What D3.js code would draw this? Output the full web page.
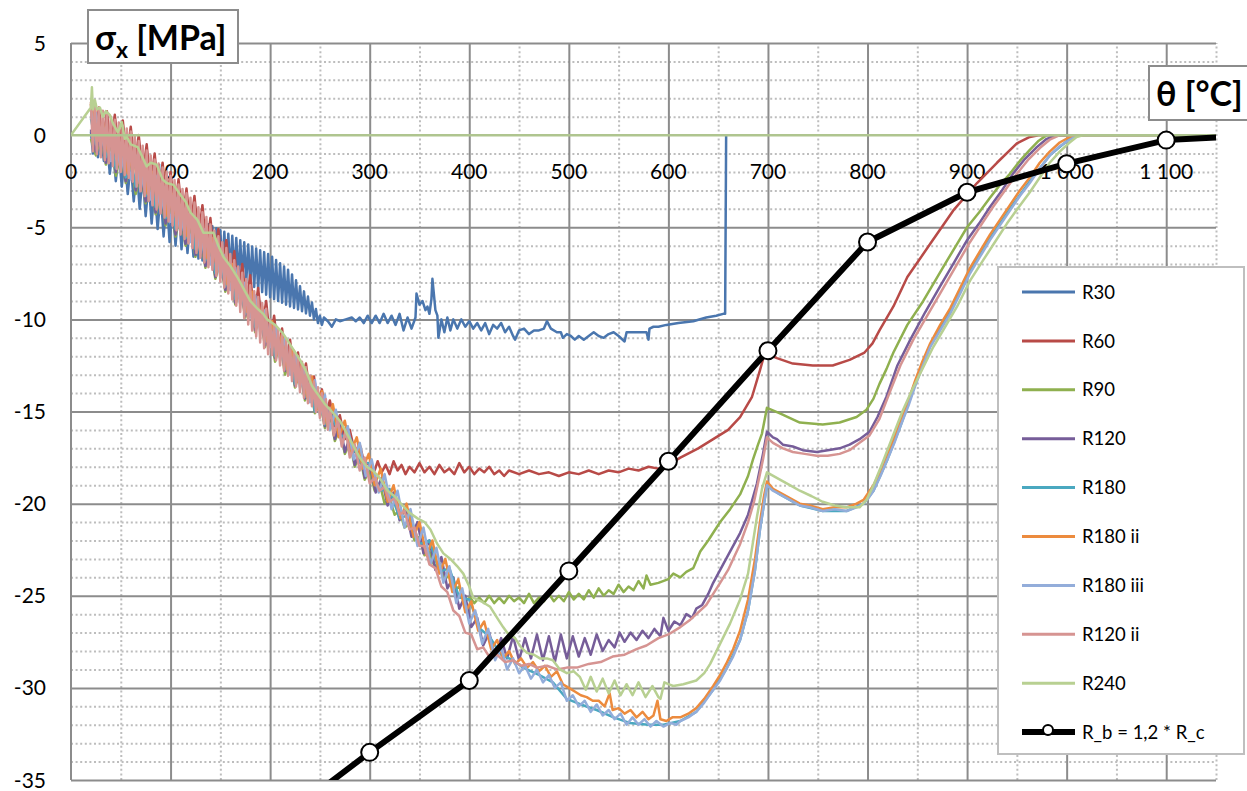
<!DOCTYPE html>
<html><head><meta charset="utf-8">
<script src="https://cdn.jsdelivr.net/npm/d3@7"></script>
<style>
html,body{margin:0;padding:0;background:#fff;}
svg{display:block;font-family:Lato,"Open Sans",sans-serif;}
</style></head>
<body>
<svg id="chart" width="1247" height="791"></svg>
<script>
// ---------- data ----------
const xTicks = [0,100,200,300,400,500,600,700,800,900,1000,1100];
const yTicks = [5,0,-5,-10,-15,-20,-25,-30,-35];
const seriesNames = ["R30","R60","R90","R120","R180","R180 ii","R180 iii","R120 ii","R240","R_b = 1,2 * R_c"];

const r30 = [[20,0.2],[22,-1.0],[24,0.4],[27,-1.2],[30,0.1],[33,-1.4],[36,-0.3],[39,-2.1],[42,-0.6],[45,-2.5],[48,-0.9],[51,-2.8],[54,-1.2],[57,-3.2],[60,-1.5],[63,-3.6],[66,-1.8],[69,-4.0],[72,-2.2],[75,-4.4],[78,-2.5],[81,-4.8],[84,-2.8],[87,-5.1],[90,-3.1],[93,-5.5],[96,-3.4],[99,-5.8],[102,-3.7],[105,-6.0],[108,-3.9],[111,-6.2],[114,-4.1],[117,-6.4],[120,-4.3],[123,-6.6],[126,-4.5],[128,-6.7],[130,-4.6],[132,-6.8],[134,-4.72],[136,-6.9],[138,-4.84],[140,-7.0],[142,-4.95],[144,-7.1],[146,-5.05],[148,-7.2],[150,-5.15],[152,-7.3],[154,-5.25],[156,-7.4],[158,-5.35],[160,-7.5],[162,-5.46],[164,-7.62],[166,-5.58],[168,-7.74],[170,-5.7],[172,-7.86],[174,-5.82],[176,-7.98],[178,-5.94],[180,-8.1],[182,-6.05],[184,-8.24],[186,-6.15],[188,-8.38],[190,-6.25],[192,-8.52],[194,-6.35],[196,-8.66],[198,-6.45],[200,-8.8],[202,-6.6],[204,-8.9],[206,-6.78],[208,-9.0],[210,-6.95],[212,-9.1],[214,-7.13],[216,-9.2],[218,-7.3],[220,-9.3],[222,-7.56],[224,-9.38],[226,-7.88],[228,-9.46],[230,-8.2],[232,-9.56],[234,-8.48],[236,-9.68],[238,-8.76],[240,-9.8],[242,-9.08],[244,-10.0],[246,-9.44],[248,-10.2],[250,-9.8],[252,-10.3],[254,-9.9],[258,-10.1],[262,-10.4],[266,-10.0],[270,-10.1],[276,-10.0],[282,-9.9],[286,-10.1],[290,-9.9],[294,-10.2],[298,-9.8],[302,-10.2],[306,-9.8],[310,-10.2],[314,-9.7],[318,-10.2],[322,-9.8],[326,-10.3],[330,-9.7],[334,-10.6],[338,-9.9],[342,-10.5],[346,-9.9],[347,-8.6],[350,-9.2],[353,-9.0],[356,-9.5],[358,-9.3],[360,-9.7],[362,-8.9],[363,-7.8],[366,-9.5],[368,-9.8],[369,-11.0],[372,-10.0],[375,-10.7],[378,-9.9],[381,-10.6],[384,-10.0],[388,-10.5],[392,-10.0],[396,-10.4],[400,-10.1],[404,-10.5],[408,-10.2],[412,-10.6],[416,-10.2],[420,-10.8],[424,-10.3],[428,-10.5],[432,-10.2],[436,-10.7],[440,-10.4],[444,-10.9],[446,-11.1],[450,-10.6],[455,-10.5],[460,-10.8],[465,-10.6],[470,-10.6],[475,-10.5],[478,-10.1],[482,-10.5],[488,-10.7],[492,-10.7],[494,-11.0],[498,-10.8],[502,-10.9],[506,-11.1],[510,-10.9],[515,-11.1],[520,-10.9],[525,-10.7],[530,-10.9],[535,-11.0],[540,-10.8],[545,-10.7],[550,-10.9],[556,-11.2],[558,-10.7],[565,-10.7],[572,-10.7],[578,-10.7],[580,-11.1],[581,-10.5],[585,-10.4],[590,-10.4],[598,-10.3],[610,-10.2],[625,-10.1],[638,-9.9],[648,-9.8],[655,-9.7],[657,-9.7],[658,0]];

const r60 = [[20,1.4],[24,-0.5],[28,1.5],[32,-0.6],[36,1.3],[40,-0.8],[44,1.1],[48,-1.0],[52,0.8],[56,-1.3],[60,0.45],[64,-1.7],[68,0.0],[72,-2.2],[76,-0.5],[80,-2.8],[84,-1.0],[88,-3.3],[92,-1.5],[96,-3.8],[100,-2.0],[104,-4.2],[108,-2.4],[112,-4.6],[116,-2.9],[120,-5.1],[124,-3.3],[128,-5.6],[132,-3.8],[136,-6.2],[140,-4.5],[144,-6.8],[148,-5.1],[152,-7.4],[156,-5.7],[160,-8.0],[164,-6.3],[168,-8.6],[172,-7.0],[176,-9.2],[180,-7.6],[184,-9.8],[188,-8.3],[192,-10.5],[196,-9.0],[200,-11.2],[204,-9.8],[208,-11.8],[212,-10.5],[216,-12.4],[220,-11.1],[224,-13.0],[228,-11.8],[232,-13.5],[236,-12.4],[240,-14.1],[244,-13.1],[248,-14.6],[252,-13.8],[256,-15.2],[260,-14.4],[265,-15.8],[270,-15.2],[275,-16.5],[280,-16.0],[285,-17.2],[290,-16.8],[295,-17.9],[300,-17.8],[305,-18.2],[308,-17.7],[312,-18.3],[316,-17.9],[320,-18.4],[324,-17.7],[328,-18.2],[332,-17.9],[336,-18.4],[340,-18.0],[345,-18.3],[350,-17.8],[355,-18.3],[360,-18.0],[365,-18.4],[370,-17.9],[375,-18.3],[380,-18.1],[385,-18.4],[390,-17.8],[395,-18.3],[400,-18.0],[405,-18.4],[410,-18.1],[415,-18.3],[420,-18.0],[425,-18.4],[430,-18.2],[435,-18.5],[440,-18.2],[450,-18.4],[460,-18.2],[470,-18.4],[480,-18.3],[490,-18.5],[500,-18.3],[510,-18.4],[520,-18.2],[530,-18.4],[540,-18.2],[550,-18.3],[560,-18.1],[570,-18.2],[580,-18.0],[590,-18.1],[600,-17.9],[612,-17.5],[630,-17.0],[645,-16.5],[660,-16.0],[672,-15.3],[684,-14.2],[692,-12.75],[697,-11.8],[700,-11.9],[709,-12.1],[725,-12.4],[745,-12.5],[765,-12.5],[782,-12.2],[797,-11.8],[805,-11.3],[812,-10.6],[826,-9.3],[840,-7.7],[863,-5.9],[886,-4.1],[910,-2.6],[930,-1.5],[950,-0.45],[963,-0.1],[973,0],[1150,0]];

const r90 = [[20,-0.2],[25,-1.1],[30,0.0],[35,-1.6],[40,-0.5],[45,-2.2],[50,-1.0],[55,-2.6],[60,-1.5],[65,-3.2],[70,-2.0],[75,-3.7],[80,-2.6],[85,-4.3],[90,-3.2],[95,-4.9],[100,-3.8],[105,-5.5],[110,-4.3],[115,-6.0],[120,-4.9],[125,-6.6],[130,-5.5],[135,-7.2],[140,-6.1],[145,-7.8],[150,-6.8],[155,-8.5],[160,-7.5],[165,-9.2],[170,-8.2],[175,-9.9],[180,-9.0],[185,-10.7],[190,-9.8],[195,-11.5],[200,-10.6],[205,-12.3],[210,-11.3],[215,-13.0],[220,-12.1],[225,-13.7],[230,-12.8],[235,-14.4],[240,-13.6],[245,-15.1],[250,-14.4],[255,-15.9],[260,-15.1],[265,-16.6],[270,-15.9],[275,-17.3],[280,-16.7],[285,-18.0],[290,-17.4],[295,-18.7],[300,-18.2],[305,-19.3],[310,-18.9],[315,-20.0],[320,-19.7],[325,-20.6],[330,-20.4],[335,-21.3],[340,-21.1],[345,-22.0],[350,-21.8],[355,-22.8],[360,-22.6],[365,-23.4],[370,-23.2],[375,-24.1],[380,-23.9],[385,-24.7],[390,-24.5],[395,-25.3],[401,-25.1],[405,-25.4],[410,-25.1],[415,-25.4],[420,-25.0],[425,-25.4],[430,-25.1],[435,-25.4],[440,-25.0],[445,-25.3],[450,-25.1],[455,-25.4],[460,-24.9],[465,-25.4],[470,-25.1],[475,-25.3],[480,-24.9],[485,-25.3],[490,-25.0],[495,-25.3],[500,-24.8],[505,-25.2],[510,-24.9],[515,-25.2],[520,-24.7],[525,-25.1],[530,-24.6],[535,-25.0],[540,-24.7],[545,-24.9],[550,-24.4],[555,-24.8],[560,-24.5],[565,-24.7],[570,-24.2],[575,-24.6],[578,-23.9],[582,-24.4],[590,-24.3],[600,-24.1],[605,-23.8],[612,-24.0],[618,-23.7],[625,-23.5],[632,-22.6],[640,-22.0],[652,-21.0],[662,-20.3],[672,-19.5],[680,-18.5],[685,-17.6],[690,-16.8],[694,-16.2],[699,-14.8],[712,-15.1],[732,-15.6],[755,-15.7],[772,-15.6],[789,-15.3],[799,-14.9],[806,-14.3],[812,-13.5],[819,-12.7],[826,-11.8],[840,-10.3],[856,-9.0],[868,-7.9],[880,-6.8],[890,-5.9],[900,-5.0],[912,-4.2],[923,-3.4],[933,-2.7],[943,-2.1],[953,-1.4],[963,-0.8],[972,-0.3],[980,0],[1150,0]];

const r120 = [[20,0.3],[25,-0.9],[30,0.2],[35,-1.5],[40,-0.3],[45,-2.0],[50,-0.8],[55,-2.5],[60,-1.3],[65,-3.0],[70,-1.9],[75,-3.6],[80,-2.4],[85,-4.2],[90,-3.0],[95,-4.8],[100,-3.6],[105,-5.4],[110,-4.1],[115,-5.9],[120,-4.7],[125,-6.5],[130,-5.3],[135,-7.1],[140,-5.9],[145,-7.7],[150,-6.6],[155,-8.4],[160,-7.3],[165,-9.1],[170,-8.0],[175,-9.8],[180,-8.8],[185,-10.6],[190,-9.6],[195,-11.4],[200,-10.4],[205,-12.1],[210,-11.1],[215,-12.8],[220,-11.9],[225,-13.6],[230,-12.6],[235,-14.3],[240,-13.4],[245,-15.0],[250,-14.1],[255,-15.8],[260,-14.9],[265,-16.5],[270,-15.6],[275,-17.2],[280,-16.4],[285,-17.9],[290,-17.1],[295,-18.6],[300,-17.9],[306,-19.4],[312,-18.6],[318,-20.1],[324,-19.4],[330,-20.9],[336,-20.2],[342,-21.8],[348,-21.0],[354,-22.7],[360,-22.0],[366,-23.6],[372,-22.9],[378,-24.6],[384,-24.0],[390,-25.7],[396,-25.0],[402,-26.7],[408,-26.2],[414,-27.7],[420,-27.0],[426,-28.3],[432,-27.3],[438,-28.4],[444,-27.2],[450,-28.5],[456,-27.3],[462,-28.4],[468,-27.1],[474,-28.5],[480,-27.2],[486,-28.6],[492,-27.1],[498,-28.4],[504,-27.2],[510,-28.3],[516,-27.3],[522,-28.2],[528,-27.1],[534,-28.0],[540,-27.4],[546,-27.8],[551,-27.0],[556,-27.5],[562,-27.0],[568,-27.4],[574,-26.9],[580,-27.3],[586,-26.8],[592,-27.2],[595,-26.2],[600,-26.9],[606,-26.4],[612,-26.6],[618,-26.0],[624,-26.2],[628,-25.7],[634,-25.5],[640,-24.9],[645,-24.3],[652,-23.6],[660,-22.8],[672,-21.6],[680,-20.6],[689,-18.9],[695,-17.3],[699,-16.1],[705,-16.4],[709,-16.5],[715,-16.8],[725,-16.9],[735,-17.1],[749,-17.2],[760,-17.1],[772,-17.0],[782,-16.8],[792,-16.5],[802,-16.1],[810,-15.3],[819,-14.2],[830,-12.5],[843,-11.1],[858,-9.6],[873,-8.2],[887,-6.9],[900,-5.7],[912,-4.8],[923,-3.9],[935,-3.0],[946,-2.1],[958,-1.3],[970,-0.65],[980,-0.2],[990,0],[1150,0]];

const r180 = [[20,0.9],[25,-0.5],[30,0.3],[35,-1.2],[40,-0.3],[45,-1.8],[50,-0.8],[55,-2.3],[60,-1.3],[65,-2.8],[70,-1.8],[75,-3.3],[80,-2.4],[85,-3.9],[90,-3.0],[95,-4.5],[100,-3.6],[105,-5.1],[110,-4.2],[115,-5.6],[120,-4.7],[125,-6.2],[130,-5.3],[135,-6.8],[140,-6.0],[145,-7.5],[150,-6.7],[155,-8.2],[160,-7.4],[165,-8.9],[170,-8.1],[175,-9.7],[180,-8.9],[185,-10.4],[190,-9.7],[195,-11.2],[200,-10.5],[205,-12.0],[210,-11.2],[215,-12.7],[220,-12.0],[225,-13.5],[230,-12.7],[235,-14.2],[240,-13.5],[245,-15.0],[250,-14.2],[255,-15.7],[260,-15.0],[270,-16.3],[280,-16.4],[290,-17.8],[300,-17.8],[310,-19.3],[320,-19.2],[330,-20.8],[340,-20.6],[350,-22.2],[360,-22.0],[370,-23.7],[380,-23.5],[390,-25.1],[400,-25.2],[411,-26.8],[420,-27.2],[432,-28.2],[444,-28.5],[454,-28.9],[470,-29.3],[484,-29.7],[498,-30.6],[512,-30.9],[528,-31.2],[545,-31.6],[561,-31.9],[580,-32.0],[595,-32.0],[612,-31.8],[628,-31.3],[645,-30.1],[658,-29.0],[672,-27.4],[680,-25.8],[687,-23.6],[692,-21.4],[699,-19.0],[712,-19.5],[732,-20.1],[755,-20.4],[779,-20.4],[796,-20.0],[806,-19.3],[820,-17.6],[833,-15.8],[848,-13.5],[863,-11.4],[883,-9.6],[903,-7.4],[923,-5.6],[943,-4.0],[963,-2.5],[983,-1.1],[1003,-0.2],[1012,0],[1150,0]];

const r180ii = [[20,1.7],[22,0.6],[24,1.5],[28,-0.3],[32,0.7],[37,-0.9],[42,0.0],[47,-1.6],[52,-0.4],[57,-2.1],[62,-0.9],[67,-2.6],[72,-1.4],[77,-3.2],[82,-2.0],[87,-3.8],[92,-2.6],[97,-4.4],[102,-3.2],[107,-5.0],[112,-3.8],[117,-5.5],[122,-4.3],[127,-6.1],[132,-4.9],[137,-6.7],[142,-5.6],[147,-7.4],[152,-6.3],[157,-8.1],[162,-7.0],[167,-8.9],[172,-7.8],[177,-9.6],[182,-8.5],[187,-10.4],[192,-9.3],[197,-11.2],[202,-10.1],[207,-11.9],[212,-10.8],[217,-12.7],[222,-11.6],[227,-13.4],[232,-12.4],[237,-14.2],[242,-13.1],[247,-14.9],[252,-13.9],[257,-15.7],[263,-14.6],[269,-16.4],[275,-15.5],[281,-17.2],[287,-16.4],[293,-18.1],[299,-17.3],[305,-19.0],[311,-18.1],[318,-19.9],[324,-19.0],[331,-20.8],[337,-20.0],[344,-21.8],[350,-21.0],[357,-22.8],[363,-22.0],[370,-23.8],[376,-23.0],[383,-24.8],[389,-24.1],[396,-25.9],[402,-25.3],[409,-26.9],[415,-26.4],[422,-27.9],[428,-27.4],[434,-28.4],[440,-28.0],[446,-28.7],[452,-28.4],[458,-28.9],[464,-28.6],[470,-29.1],[476,-28.8],[482,-29.4],[488,-29.1],[494,-29.8],[500,-30.0],[506,-30.2],[512,-30.4],[518,-30.5],[524,-30.7],[530,-30.7],[536,-31.0],[541,-30.3],[544,-31.2],[550,-31.1],[556,-31.4],[562,-31.2],[568,-31.6],[574,-31.3],[580,-31.7],[585,-31.5],[589,-30.7],[592,-31.7],[598,-31.8],[604,-31.6],[612,-31.6],[620,-31.4],[628,-31.1],[636,-30.6],[645,-29.9],[652,-29.3],[658,-28.7],[665,-27.9],[672,-26.9],[680,-25.2],[687,-23.0],[692,-21.0],[696,-19.6],[699,-18.8],[705,-19.2],[712,-19.4],[722,-19.7],[732,-20.0],[742,-20.1],[755,-20.3],[767,-20.2],[779,-20.2],[789,-20.0],[796,-19.8],[801,-19.4],[806,-19.0],[813,-18.2],[820,-17.3],[827,-16.4],[833,-15.5],[841,-14.4],[848,-13.3],[855,-12.3],[863,-11.3],[873,-10.3],[883,-9.4],[893,-8.3],[903,-7.2],[913,-6.3],[923,-5.4],[933,-4.6],[943,-3.8],[953,-3.0],[963,-2.3],[973,-1.5],[983,-0.9],[993,-0.4],[1003,-0.1],[1010,0],[1150,0]];

const r180iii = [[20,1.4],[22,0.5],[25,1.2],[30,-0.6],[35,0.4],[40,-1.4],[45,-0.1],[50,-1.9],[55,-0.6],[60,-2.4],[65,-1.1],[70,-2.9],[75,-1.6],[80,-3.5],[85,-2.2],[90,-4.1],[95,-2.8],[100,-4.7],[105,-3.4],[110,-5.3],[115,-4.0],[120,-5.8],[125,-4.5],[130,-6.4],[135,-5.1],[140,-7.0],[145,-5.8],[150,-7.7],[155,-6.5],[160,-8.4],[165,-7.2],[170,-9.2],[175,-8.0],[180,-9.9],[185,-8.7],[190,-10.7],[195,-9.5],[200,-11.5],[205,-10.3],[210,-12.2],[215,-11.0],[220,-13.0],[225,-11.8],[230,-13.7],[235,-12.6],[240,-14.5],[245,-13.3],[250,-15.2],[255,-14.1],[260,-16.0],[266,-14.9],[272,-16.8],[278,-15.8],[284,-17.6],[290,-16.7],[296,-18.5],[302,-17.6],[309,-19.4],[315,-18.4],[322,-20.3],[328,-19.3],[335,-21.3],[341,-20.3],[348,-22.3],[354,-21.3],[361,-23.3],[367,-22.4],[374,-24.3],[380,-23.4],[387,-25.4],[393,-24.6],[400,-26.5],[406,-25.8],[413,-27.6],[419,-26.8],[426,-28.5],[432,-27.8],[438,-29.0],[444,-28.4],[450,-29.2],[456,-28.8],[462,-29.5],[468,-29.0],[474,-29.7],[480,-29.3],[486,-30.0],[492,-29.7],[498,-30.7],[504,-30.4],[510,-31.0],[516,-30.7],[522,-31.3],[528,-30.9],[534,-31.5],[540,-31.2],[546,-31.7],[552,-31.4],[558,-32.0],[564,-31.6],[570,-32.0],[576,-31.7],[582,-32.1],[588,-31.8],[595,-32.1],[602,-31.9],[608,-32.0],[612,-31.8],[620,-31.6],[628,-31.3],[636,-30.8],[645,-30.1],[652,-29.6],[658,-29.0],[665,-28.3],[672,-27.4],[680,-25.8],[687,-23.6],[692,-21.4],[696,-20.0],[699,-19.0],[705,-19.3],[712,-19.5],[722,-19.8],[732,-20.1],[742,-20.2],[755,-20.4],[767,-20.3],[779,-20.4],[789,-20.2],[796,-20.0],[801,-19.7],[806,-19.3],[813,-18.5],[820,-17.6],[827,-16.7],[833,-15.8],[841,-14.7],[848,-13.6],[855,-12.6],[863,-11.5],[873,-10.6],[883,-9.7],[893,-8.6],[903,-7.5],[913,-6.6],[923,-5.7],[933,-4.9],[943,-4.1],[953,-3.3],[963,-2.6],[973,-1.8],[983,-1.1],[993,-0.6],[1003,-0.25],[1010,-0.05],[1015,0],[1150,0]];

const r120ii = [[20,1.8],[22,-0.88],[24,1.64],[26,-1.04],[28,1.48],[30,-1.2],[32,1.32],[34,-1.36],[36,1.16],[38,-1.52],[40,1.0],[42,-1.68],[44,0.84],[46,-1.84],[48,0.68],[50,-2.0],[52,0.52],[54,-2.16],[56,0.36],[58,-2.32],[60,0.2],[62,-2.53],[64,-0.06],[66,-2.79],[68,-0.32],[70,-3.05],[72,-0.58],[74,-3.31],[76,-0.84],[78,-3.57],[80,-1.1],[82,-3.81],[84,-1.32],[86,-4.03],[88,-1.54],[90,-4.25],[92,-1.76],[94,-4.47],[96,-1.98],[98,-4.69],[100,-2.2],[102,-4.92],[104,-2.44],[106,-5.16],[108,-2.68],[110,-5.4],[112,-2.92],[114,-5.64],[116,-3.16],[118,-5.88],[120,-3.4],[122,-6.13],[124,-3.66],[126,-6.39],[128,-3.92],[130,-6.65],[132,-4.18],[134,-6.91],[136,-4.44],[138,-7.17],[140,-4.85],[142,-7.31],[144,-5.17],[146,-7.63],[148,-5.49],[150,-7.95],[152,-5.81],[154,-8.27],[156,-6.13],[158,-8.59],[160,-6.45],[162,-8.92],[164,-6.79],[166,-9.26],[168,-7.13],[170,-9.6],[172,-7.47],[174,-9.94],[176,-7.81],[178,-10.28],[180,-8.15],[182,-10.61],[184,-8.47],[186,-10.93],[188,-8.79],[190,-11.25],[192,-9.11],[194,-11.57],[196,-9.43],[198,-11.89],[200,-10.0],[202,-11.94],[204,-10.28],[206,-12.22],[208,-10.56],[210,-12.5],[212,-10.84],[214,-12.78],[216,-11.12],[218,-13.06],[220,-11.4],[222,-13.35],[224,-11.7],[226,-13.65],[228,-12.0],[230,-13.95],[232,-12.3],[234,-14.25],[236,-12.6],[238,-14.55],[240,-13.05],[242,-14.71],[244,-13.37],[246,-15.03],[248,-13.69],[250,-15.35],[252,-14.01],[254,-15.67],[256,-14.33],[258,-15.99],[260,-14.8],[264,-16.3],[268,-15.4],[272,-16.9],[276,-16.0],[280,-17.5],[285,-16.8],[290,-18.2],[295,-17.5],[300,-18.9],[305,-18.6],[310,-19.3],[315,-19.1],[320,-19.9],[325,-19.7],[330,-20.6],[335,-20.4],[340,-21.4],[345,-21.3],[350,-22.3],[355,-22.3],[360,-23.3],[366,-23.5],[372,-24.5],[378,-24.8],[384,-25.8],[390,-26.1],[396,-27.0],[402,-27.1],[408,-27.9],[414,-27.8],[420,-28.3],[428,-28.2],[436,-28.6],[444,-28.5],[452,-28.8],[460,-28.7],[468,-28.9],[478,-28.8],[488,-29.0],[498,-28.9],[508,-28.9],[520,-28.7],[532,-28.6],[544,-28.3],[556,-28.2],[568,-27.9],[578,-27.7],[590,-27.3],[600,-27.1],[612,-26.7],[622,-26.3],[630,-25.9],[638,-25.5],[645,-24.9],[652,-24.3],[660,-23.6],[666,-22.9],[672,-22.2],[680,-21.0],[686,-19.9],[690,-18.9],[695,-17.6],[699,-16.4],[705,-16.7],[715,-17.0],[725,-17.2],[737,-17.3],[749,-17.4],[760,-17.4],[772,-17.3],[782,-17.1],[792,-16.7],[802,-16.3],[812,-15.4],[822,-14.0],[833,-12.5],[846,-11.1],[861,-9.7],[876,-8.3],[890,-7.0],[903,-5.8],[915,-4.8],[926,-3.9],[938,-3.0],[950,-2.1],[962,-1.3],[973,-0.7],[983,-0.25],[993,0],[1150,0]];

const r240 = [[0,0],[20,1.5],[21,2.6],[22,1.4],[24,1.9],[26,1.4],[29,1.5],[32,1.0],[35,1.3],[39,1.1],[42,0.65],[47,0.16],[51,0.7],[54,-0.2],[56,-0.1],[60,-0.5],[67,-0.65],[70,-1.0],[76,-1.7],[80,-1.5],[86,-1.6],[92,-2.4],[96,-2.6],[103,-2.7],[110,-3.25],[115,-3.6],[120,-4.2],[127,-4.6],[133,-5.3],[143,-5.3],[148,-6.0],[153,-6.6],[160,-7.1],[167,-7.7],[174,-8.4],[180,-9.0],[187,-9.4],[193,-9.7],[197,-10.0],[205,-10.3],[212,-10.7],[217,-11.1],[224,-11.7],[230,-12.2],[236,-12.8],[242,-13.6],[247,-14.0],[255,-14.6],[262,-15.0],[270,-15.5],[278,-16.3],[284,-16.9],[290,-17.5],[297,-18.0],[303,-18.2],[310,-18.6],[318,-19.3],[325,-19.6],[333,-20.1],[340,-20.5],[348,-20.8],[355,-21.0],[361,-21.4],[368,-22.2],[374,-22.7],[381,-23.0],[388,-23.4],[394,-23.8],[400,-24.5],[404,-25.1],[412,-25.3],[421,-25.6],[428,-26.2],[434,-26.7],[438,-27.0],[446,-27.3],[452,-27.8],[458,-28.1],[465,-28.2],[471,-28.4],[478,-28.4],[484,-28.5],[491,-29.0],[498,-29.2],[505,-29.1],[511,-29.4],[517,-30.1],[522,-29.4],[528,-30.2],[534,-29.5],[540,-30.3],[546,-29.6],[552,-30.4],[558,-29.8],[564,-30.4],[570,-29.7],[577,-30.5],[584,-29.9],[590,-30.5],[592,-30.6],[596,-29.7],[600,-29.8],[605,-29.9],[615,-29.8],[628,-29.6],[636,-29.2],[642,-28.7],[652,-27.6],[662,-26.5],[672,-25.2],[680,-23.8],[689,-20.7],[694,-19.2],[699,-18.3],[712,-18.7],[722,-19.0],[732,-19.3],[744,-19.6],[755,-19.9],[767,-20.1],[779,-20.2],[792,-20.2],[799,-19.8],[806,-19.0],[815,-17.8],[825,-16.4],[835,-15.0],[845,-13.8],[856,-12.6],[866,-11.5],[878,-10.4],[890,-9.3],[903,-7.9],[916,-6.8],[928,-5.8],[940,-4.8],[952,-3.9],[963,-3.1],[973,-2.3],[983,-1.5],[993,-0.9],[1003,-0.4],[1010,-0.1],[1017,0],[1150,0]];

const zeroLine = [[0,0],[1150,0]];

const rbX = [200,300,400,500,600,700,800,900,1000,1100,1200];
const rbY = [-37.6,-33.5,-29.6,-23.65,-17.7,-11.7,-5.8,-3.1,-1.55,-0.27,0.0];

const colors = ["#4A76AE","#B84A47","#8FB04F","#765D99","#4AA8C0","#EC8B3E","#93ADDA","#D69492","#B8D092","#000000"];

// ---------- layout ----------
const svg = d3.select("#chart");
const x = d3.scaleLinear().domain([0,1150]).range([71,1216]);
const y = d3.scaleLinear().domain([-35,5]).range([780,43]);
const loc = d3.formatLocale({decimal:",",thousands:"\u00a0",grouping:[3],currency:["",""],minus:"-"});
const fmtX = loc.format(",");
const fmtY = loc.format("d");

// grid
const g = svg.append("g");
g.append("g").attr("transform",`translate(0,${y(-35)})`)
  .call(d3.axisBottom(x).tickValues(d3.range(50,1151,100)).tickSize(-(y(-35)-y(5))).tickFormat(""))
  .call(a=>a.select(".domain").remove())
  .call(a=>a.selectAll("line").attr("stroke","#BDBDBD").attr("stroke-width",2).attr("stroke-dasharray","2,2.6"));
g.append("g").attr("transform",`translate(${x(0)},0)`)
  .call(d3.axisLeft(y).tickValues(d3.range(-34,5,1).filter(v=>v%5!==0)).tickSize(-(x(1150)-x(0))).tickFormat(""))
  .call(a=>a.select(".domain").remove())
  .call(a=>a.selectAll("line").attr("stroke","#BDBDBD").attr("stroke-width",2).attr("stroke-dasharray","2,2.6"));
g.append("g").attr("transform",`translate(0,${y(-35)})`)
  .call(d3.axisBottom(x).tickValues(d3.range(100,1101,100)).tickSize(-(y(-35)-y(5))).tickFormat(""))
  .call(a=>a.select(".domain").remove())
  .call(a=>a.selectAll("line").attr("stroke","#8C8C8C").attr("stroke-width",2));
g.append("g").attr("transform",`translate(${x(0)},0)`)
  .call(d3.axisLeft(y).tickValues([5,-5,-10,-15,-20,-25,-30,-35]).tickSize(-(x(1150)-x(0))).tickFormat(""))
  .call(a=>a.select(".domain").remove())
  .call(a=>a.selectAll("line").attr("stroke","#8C8C8C").attr("stroke-width",2));
g.append("line").attr("x1",x(0)).attr("x2",x(0)).attr("y1",y(5)).attr("y2",y(-35))
  .attr("stroke","#8C8C8C").attr("stroke-width",2);

// tick labels
svg.append("g").selectAll("text").data(yTicks).join("text")
  .attr("x",46).attr("y",d=>y(d)).attr("dy","0.36em").attr("text-anchor","end")
  .attr("font-size",21).attr("fill","#000").text(d=>fmtY(d));
svg.append("g").selectAll("text").data(xTicks).join("text")
  .attr("x",d=>x(d)).attr("y",y(0)+44).attr("text-anchor","middle")
  .attr("font-size",21).attr("fill","#000").text(d=>fmtX(d));

// clip
svg.append("clipPath").attr("id","plotclip").append("rect")
  .attr("x",x(0)).attr("y",y(5)).attr("width",x(1150)-x(0)).attr("height",y(-35)-y(5));
const plot = svg.append("g").attr("clip-path","url(#plotclip)");

const line = d3.line().x(d=>x(d[0])).y(d=>y(d[1]));
const allSeries = [r30,r60,r90,r120,r180,r180ii,r180iii,r120ii,r240];
allSeries.forEach((s,i)=>{
  plot.append("path").datum(s).attr("d",line).attr("fill","none")
    .attr("stroke",colors[i]).attr("stroke-width",2.5).attr("stroke-linejoin","round");
});
// zero line (horizontal axis at 0)
plot.append("path").datum(zeroLine).attr("d",line).attr("fill","none")
  .attr("stroke","#AFC58F").attr("stroke-width",2.5);

const rb = rbX.map((v,i)=>[v,rbY[i]]);
plot.append("path").datum(rb).attr("d",line).attr("fill","none")
  .attr("stroke","#000").attr("stroke-width",6).attr("stroke-linejoin","round");
plot.selectAll("circle.rb").data(rb).join("circle").attr("class","rb")
  .attr("cx",d=>x(d[0])).attr("cy",d=>y(d[1])).attr("r",8.5)
  .attr("fill","#fff").attr("stroke","#000").attr("stroke-width",2);

// axis title boxes
function titleBox(bx,by,bw,bh){
  svg.append("rect").attr("x",bx).attr("y",by).attr("width",bw).attr("height",bh)
    .attr("fill","#fff").attr("stroke","#8C8C8C").attr("stroke-width",2);
}
titleBox(88,10,150,53);
const t1 = svg.append("text").attr("x",95).attr("y",50).attr("font-size",34).attr("font-weight","bold").attr("fill","#000");
t1.append("tspan").text("σ");
t1.append("tspan").attr("font-size",23).attr("dy",8).text("x");
t1.append("tspan").attr("dy",-8).text(" [MPa]");
titleBox(1149,66,110,54);
svg.append("text").attr("x",1156).attr("y",106).attr("font-size",34).attr("font-weight","bold").attr("fill","#000").text("θ [°C]");

// legend
const lg = svg.append("g");
lg.append("rect").attr("x",998).attr("y",267).attr("width",246).attr("height",487)
  .attr("fill","#fff").attr("stroke","#BFBFBF").attr("stroke-width",2);
seriesNames.forEach((n,i)=>{
  const ly = 292 + i*48.9;
  lg.append("line").attr("x1",1022).attr("x2",1075).attr("y1",ly).attr("y2",ly)
    .attr("stroke",colors[i]).attr("stroke-width",i===9?6:3);
  if(i===9){
    lg.append("circle").attr("cx",1048).attr("cy",ly-2).attr("r",5)
      .attr("fill","#fff").attr("stroke","#000").attr("stroke-width",2);
  }
  lg.append("text").attr("x",1082).attr("y",ly).attr("dy","0.36em")
    .attr("font-size",18.5).attr("fill","#000").text(n);
});
</script>
</body></html>
